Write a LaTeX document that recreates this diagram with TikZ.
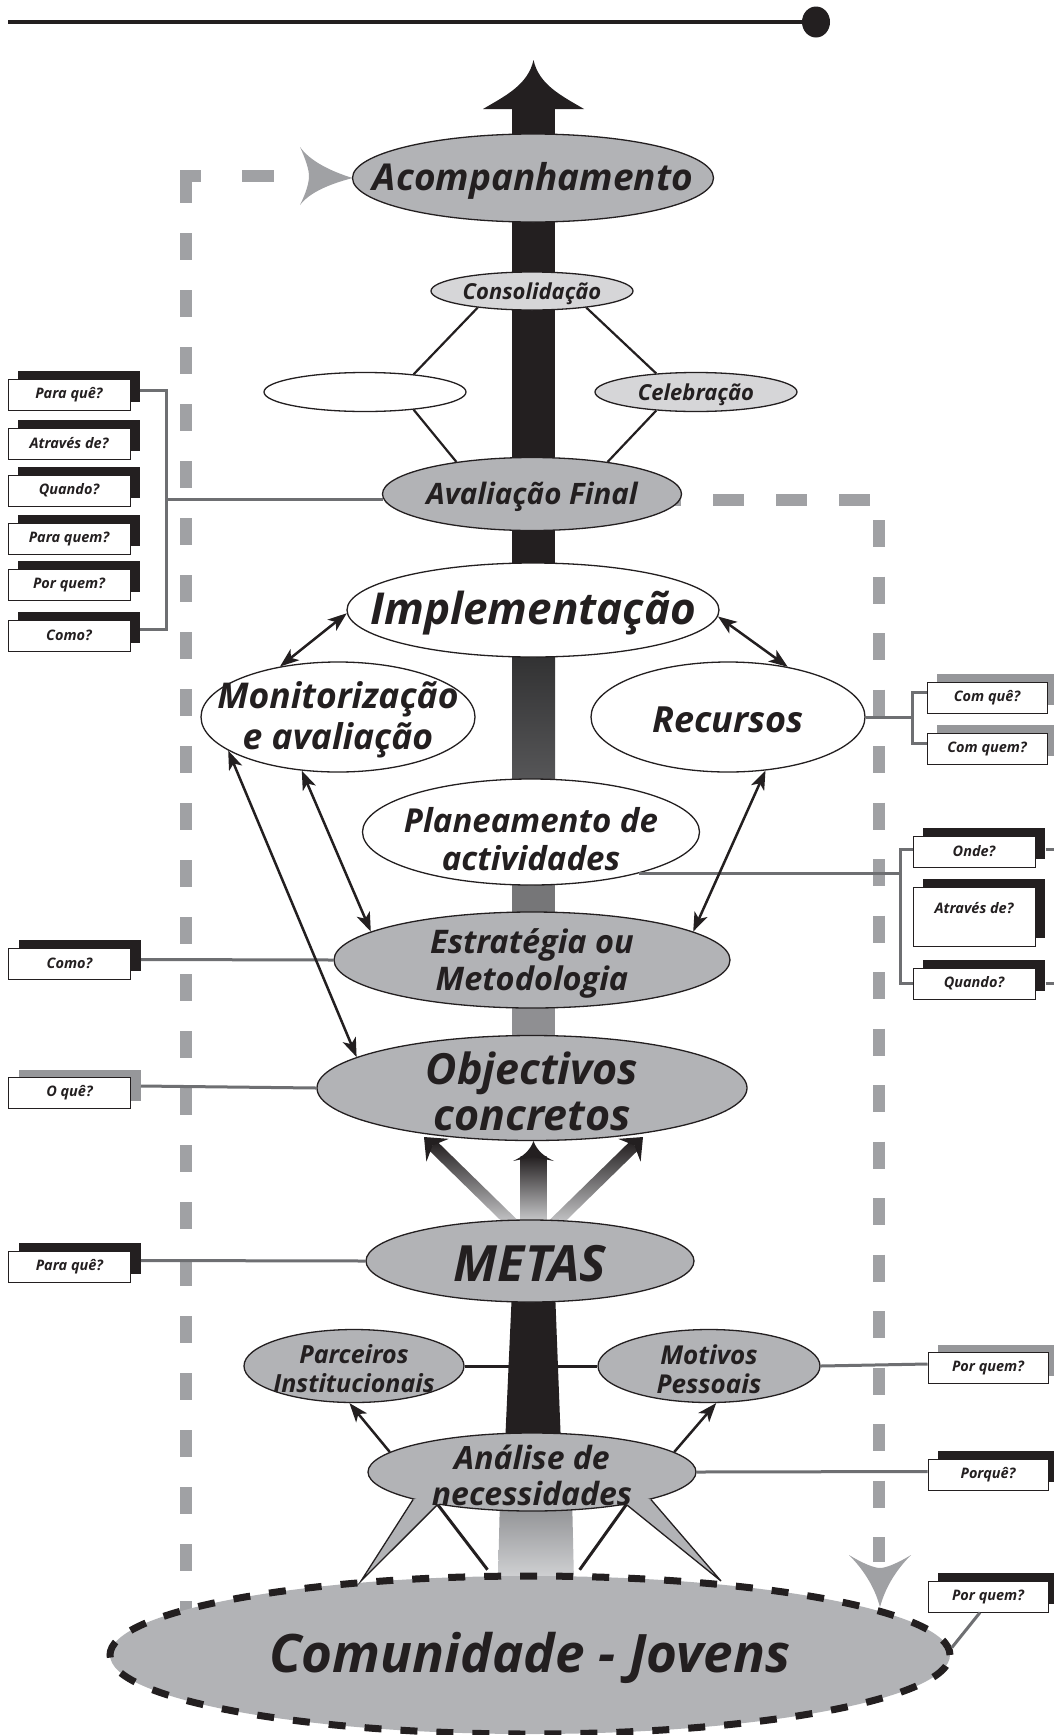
\documentclass[tikz,border=0pt]{standalone}
\usepackage{fontspec}
\setmainfont{Open Sans}
\usetikzlibrary{shapes.geometric,arrows.meta,calc,shadows}
\definecolor{ellgray}{RGB}{178,179,182}
\definecolor{elllight}{RGB}{214,214,216}
\definecolor{fbgray}{RGB}{160,161,164}
\definecolor{lngray}{RGB}{110,111,114}
\definecolor{inkblack}{RGB}{35,31,32}
\definecolor{shgray}{RGB}{150,151,154}
\definecolor{shA}{RGB}{45,45,46}
\definecolor{shB}{RGB}{92,92,94}
\definecolor{shC}{RGB}{118,118,120}
\definecolor{shD}{RGB}{143,143,146}
\definecolor{shE}{RGB}{135,136,139}
\definecolor{shF}{RGB}{212,213,215}
\newcommand\lf[2]{\fontsize{#1}{#2}\selectfont\bfseries\itshape}
\begin{document}
\begin{tikzpicture}[x=1pt,y=-1pt,
 ell/.style={ellipse, draw=inkblack, line width=1.3pt, inner sep=0pt},
 lbl/.style={text=inkblack, align=center, inner sep=0pt, yshift=-3pt},
 gline/.style={draw=lngray, line width=3pt},
 fb/.style={draw=fbgray, line width=12pt},
 darr/.style={draw=inkblack, line width=2.5pt, {Stealth[length=19pt,width=14pt,inset=5pt]}-{Stealth[length=19pt,width=14pt,inset=5pt]}},
 sarr/.style={draw=inkblack, line width=2.5pt, -{Stealth[length=19pt,width=14pt,inset=5pt]}},
 qbox/.style={draw=inkblack, line width=1pt, fill=white, minimum width=122pt, minimum height=31pt, inner sep=0pt, font=\lf{14.5}{16}, text=inkblack},
 bsh/.style={general shadow={fill=inkblack, shadow xshift=10pt, shadow yshift=8pt}},
 gsh/.style={general shadow={fill=shgray, shadow xshift=10pt, shadow yshift=8pt}},
]
\path[use as bounding box, fill=white] (0,0) rectangle (1053,1735);

% top rule
\coordinate (tl0) at (8,22);
\node[ellipse, fill=inkblack, minimum width=28pt, minimum height=31pt, inner sep=0pt] (dot) at (816,22) {};
\draw[inkblack, line width=4pt] (tl0) -- (dot.center);

% central shaft
\fill[inkblack] (512,105) rectangle (555,600);
\fill[inkblack] (483,109) .. controls (505,96) and (528,85) .. (533.5,60) .. controls (539,85) and (562,96) .. (584,109) -- cycle;
\shade[top color=shA, bottom color=shB] (512,640) rectangle (555,800);
\fill[shC] (512,860) rectangle (555,930);
\fill[shD] (512,990) rectangle (555,1050);
\fill[inkblack] (512,1290) -- (555,1290) -- (561,1445) -- (505,1445) -- cycle;
\shade[top color=shE, bottom color=shF] (500,1495) -- (572,1495) -- (574,1582) -- (498,1582) -- cycle;

% METAS arrows (shafts with gradient, black heads)
\coordinate (mL0) at (515,1226); \coordinate (mL1) at (424,1137);
\coordinate (mR0) at (552,1226); \coordinate (mR1) at (643,1137);
\coordinate (mLb) at ($(mL1)!12pt!(mL0)$);
\coordinate (mRb) at ($(mR1)!12pt!(mR0)$);
\coordinate (mLh) at ($(mL1)!19pt!(mL0)$);
\coordinate (mRh) at ($(mR1)!19pt!(mR0)$);
\shade[top color=inkblack, bottom color=shF] ($(mL0)!6pt!90:(mL1)$) -- ($(mLb)!6pt!90:(mL1)$) -- ($(mLb)!6pt!-90:(mL1)$) -- ($(mL0)!6pt!-90:(mL1)$) -- cycle;
\shade[top color=inkblack, bottom color=shF] ($(mR0)!6pt!90:(mR1)$) -- ($(mRb)!6pt!90:(mR1)$) -- ($(mRb)!6pt!-90:(mR1)$) -- ($(mR0)!6pt!-90:(mR1)$) -- cycle;
\fill[inkblack] (mL1) -- ($(mLh)!16pt!90:(mL1)$) -- (mLb) -- ($(mLh)!16pt!-90:(mL1)$) -- cycle;
\fill[inkblack] (mR1) -- ($(mRh)!16pt!90:(mR1)$) -- (mRb) -- ($(mRh)!16pt!-90:(mR1)$) -- cycle;
\shade[top color=inkblack, bottom color=shF] (520.5,1156) rectangle (546.5,1226);
\fill[inkblack] (533.5,1141) .. controls (537,1151) and (545,1157) .. (554,1161) -- (533.5,1157) -- (513,1161) .. controls (522,1157) and (530,1151) .. (533.5,1141) -- cycle;

% feedback dashed lines
\draw[fb, dash pattern=on 27pt off 30pt] (186,176) -- (186,1612);
\draw[fb, dash pattern=on 21pt off 41pt on 32pt off 60pt] (180,176) -- (300,176);
\fill[fbgray] (352.5,178) .. controls (330,171) and (310,161) .. (300,147) .. controls (306,160) and (309,170) .. (309,176) .. controls (309,183) and (306,193) .. (300,205) .. controls (310,192) and (330,184) .. (352.5,178) -- cycle;
\draw[fb, dash pattern=on 31pt off 32pt] (650,500) -- (885,500);
\draw[fb, dash pattern=on 27pt off 29.5pt] (879,520) -- (879,1562);
\fill[fbgray] (880,1607) .. controls (874,1585) and (862,1568) .. (849,1555) .. controls (862,1563) and (874,1568) .. (880,1568) .. controls (886,1568) and (898,1563) .. (911,1555) .. controls (898,1568) and (886,1585) .. (880,1607) -- cycle;

% Comunidade
\node[ellipse, fill=ellgray, draw=inkblack, line width=7pt, dash pattern=on 17pt off 19pt, minimum width=840pt, minimum height=158pt, inner sep=0pt,
 label={[lbl,font=\lf{53}{58}]center:Comunidade - Jovens}] (comun) at (530,1655) {};

% ellipses
\node[ell, fill=ellgray, minimum width=361pt, minimum height=88pt, label={[lbl,font=\lf{37}{42}]center:Acompanhamento}] (acomp) at (533,178) {};
\node[ell, fill=elllight, minimum width=202pt, minimum height=38pt, label={[lbl,font=\lf{22}{26}]center:Consolidação}] (consol) at (532,291) {};
\node[ell, fill=white, minimum width=202pt, minimum height=39pt] (empty) at (365,392) {};
\node[ell, fill=elllight, minimum width=202pt, minimum height=39pt, label={[lbl,font=\lf{22}{26}]center:Celebração}] (celeb) at (696,392) {};
\node[ell, fill=ellgray, minimum width=299pt, minimum height=73pt, label={[lbl,font=\lf{29.5}{34}]center:Avaliação Final}] (avalf) at (532,494) {};
\node[ell, fill=white, minimum width=372pt, minimum height=94pt, label={[lbl,font=\lf{44}{50}]center:Implementação}] (impl) at (533,610) {};
\node[ell, fill=white, minimum width=274pt, minimum height=110pt, label={[lbl,font=\lf{35.5}{41}]center:Monitorização\\e avaliação}] (monit) at (338,717) {};
\node[ell, fill=white, minimum width=274pt, minimum height=110pt, label={[lbl,font=\lf{36}{39}]center:Recursos}] (recur) at (728,717) {};
\node[ell, fill=white, minimum width=337pt, minimum height=106pt, label={[lbl,font=\lf{33}{38},yshift=-4pt]center:Planeamento de\\actividades}] (plan) at (531,832) {};
\node[ell, fill=ellgray, minimum width=396pt, minimum height=96pt, label={[lbl,font=\lf{32.5}{37}]center:Estratégia ou\\Metodologia}] (estrat) at (532,960) {};
\node[ell, fill=ellgray, minimum width=430pt, minimum height=105pt, label={[lbl,font=\lf{43}{46}]center:Objectivos\\concretos}] (obj) at (532,1088) {};
\node[ell, fill=ellgray, minimum width=328pt, minimum height=82pt, label={[lbl,font=\lf{50}{54}]center:METAS}] (metas) at (530,1261) {};
\node[ell, fill=ellgray, minimum width=220pt, minimum height=73pt, label={[lbl,font=\lf{25}{29}]center:Parceiros\\Institucionais}] (parc) at (354,1366) {};
\node[ell, fill=ellgray, minimum width=222pt, minimum height=73pt, label={[lbl,font=\lf{26}{29}]center:Motivos\\Pessoais}] (motiv) at (709,1366) {};
\node[ell, fill=ellgray, minimum width=328pt, minimum height=78pt] (ana) at (532,1472) {};

% Analise tails and links to Comunidade
\coordinate (tlL) at (361,1581); \coordinate (tlR) at (721,1581);
\draw[inkblack, line width=3pt, shorten >=4pt] (ana.199) -- (comun.116);
\draw[inkblack, line width=3pt, shorten >=4pt] (ana.341) -- (comun.60);
\fill[ellgray] (ana.193) -- (tlL) -- (ana.199) -- ($(ana.196)!0.3!(ana.center)$) -- cycle;
\draw[inkblack, line width=1.3pt] (ana.193) -- (tlL) -- (ana.199);
\fill[ellgray] (ana.347) -- (tlR) -- (ana.341) -- ($(ana.344)!0.3!(ana.center)$) -- cycle;
\draw[inkblack, line width=1.3pt] (ana.347) -- (tlR) -- (ana.341);
\node[lbl, font=\lf{32}{36}] (anatxt) at (ana.center) {Análise de\\necessidades};

% diamond lines
\draw[inkblack, line width=2.2pt] (consol.197) -- (empty.20);
\draw[inkblack, line width=2.2pt] (consol.343) -- (celeb.155);
\draw[inkblack, line width=2.2pt] (empty.340) -- (avalf.157);
\draw[inkblack, line width=2.2pt] (celeb.205) -- (avalf.23);
\draw[inkblack, line width=3pt] (parc.east) -- (motiv.west);

% question boxes
\node[qbox,bsh] (qA1) at (69,394.5) {Para quê?};
\node[qbox,bsh] (qA2) at (69,443.5) {Através de?};
\node[qbox,bsh] (qA3) at (69,490.5) {Quando?};
\node[qbox,bsh] (qA4) at (69,538.5) {Para quem?};
\node[qbox,bsh] (qA5) at (69,584.5) {Por quem?};
\node[qbox,bsh] (qA6) at (69,635.5) {Como?};
\node[qbox,bsh] (qB) at (69.5,963.5) {Como?};
\node[qbox,gsh] (qC) at (69.5,1093) {O quê?};
\node[qbox,bsh] (qD) at (69.5,1266.5) {Para quê?};
\node[qbox,gsh,minimum width=120pt] (qE1) at (987,697.5) {Com quê?};
\node[qbox,gsh,minimum width=120pt] (qE2) at (987,748.5) {Com quem?};
\node[qbox,bsh] (qF1) at (974,851.5) {Onde?};
\node[qbox,bsh,minimum height=59pt,label={[font=\lf{14.5}{16},text=inkblack,yshift=8pt]center:Através de?}] (qF2) at (974,916.5) {};
\node[qbox,bsh] (qF3) at (974,983.5) {Quando?};
\node[qbox,gsh,minimum width=120pt] (qG) at (988,1368) {Por quem?};
\node[qbox,bsh,minimum width=120pt] (qH) at (988,1474.5) {Porquê?};
\node[qbox,bsh,minimum width=120pt] (qI) at (988,1596.5) {Por quem?};

% gray connectors
\coordinate (bxL) at (166,0);
\coordinate (bxR1) at (913,0);
\coordinate (bxR2) at (901,0);
\draw[gline] ($(qA1.east)+(9,-4)$) -| ($(qA6.east)+(36,-6)$) -- ($(qA6.east)+(9,-6)$);
\draw[gline] (avalf.182) -- (bxL |- avalf.182);
\draw[gline] (recur.east) -- (bxR1 |- recur.east);
\draw[gline] ($(qE1.west)+(0,-5)$) -| ($(qE2.west)+(-14,-5)$) -- ($(qE2.west)+(0,-5)$);
\draw[gline] (plan.339) -- (bxR2 |- plan.339);
\draw[gline] ($(qF1.west)+(0,-2)$) -| ($(qF3.west)+(-12,0)$) -- (qF3.west);
\draw[gline] ($(qF1.east)+(10,-2)$) -- ++(10,0);
\draw[gline] ($(qF3.east)+(10,0)$) -- ++(10,0);
\draw[gline] ($(qB.east)+(10,-4)$) -- (estrat.west);
\draw[gline] ($(qC.east)+(10,-7)$) -- (obj.west);
\draw[gline] ($(qD.east)+(10,-6)$) -- (metas.west);
\draw[gline] (motiv.east) -- ($(qG.west)+(0,-4)$);
\draw[gline] (ana.east) -- ($(qH.west)+(0,-3)$);
\draw[gline] ($(qI.south)+(-8,0)$) -- (comun.1);

% black arrows
\draw[darr] (impl.181) -- (monit.139);
\draw[darr] (impl.358) -- (recur.40);
\draw[darr] (monit.236) -- (estrat.170);
\draw[darr] (monit.197) -- (obj.170);
\draw[darr] (recur.305) -- (estrat.10);
\draw[sarr] (ana.172) -- (parc.263);
\draw[sarr] (ana.8) -- (motiv.281);
\end{tikzpicture}
\end{document}
